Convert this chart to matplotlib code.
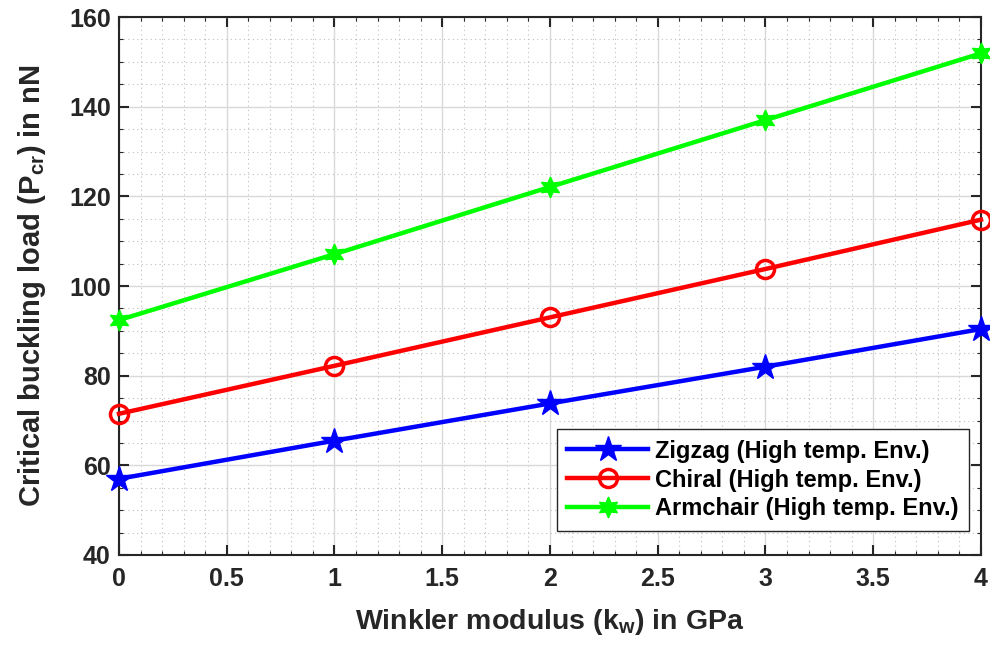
import matplotlib.pyplot as plt
from matplotlib.ticker import MultipleLocator, FuncFormatter

plt.rcParams['font.family'] = ['Liberation Sans', 'DejaVu Sans']
plt.rcParams['font.weight'] = 'bold'
plt.rcParams['mathtext.fontset'] = 'custom'
plt.rcParams['mathtext.rm'] = 'Liberation Sans:bold'
plt.rcParams['mathtext.bf'] = 'Liberation Sans:bold'
plt.rcParams['mathtext.it'] = 'Liberation Sans:bold'

# Winkler modulus (GPa)
kw = [0, 1, 2, 3, 4]
# critical buckling load (nN)
zigzag = [57.0, 65.5, 73.8, 82.0, 90.4]
chiral = [71.5, 82.2, 93.0, 103.8, 114.8]
armchair = [92.4, 107.1, 122.1, 137.0, 151.9]

labels = ['Zigzag (High temp. Env.)', 'Chiral (High temp. Env.)',
          'Armchair (High temp. Env.)']

fig = plt.figure(figsize=(9.9, 6.47), dpi=100)
ax = fig.add_axes([0.1202, 0.1422, 0.8707, 0.8315])

ax.plot(kw, zigzag, '-*', color='#0000ff', lw=3.2, ms=19, label=labels[0], clip_on=False, zorder=5)
ax.plot(kw, chiral, '-o', color='#ff0000', lw=3.2, ms=13, mfc='none', mew=2.5,
        label=labels[1], clip_on=False, zorder=5)
ax.plot(kw, armchair, '-', marker=(6, 1, 0), color='#00ff00', lw=3.2, ms=15,
        label=labels[2], clip_on=False, zorder=5)

ax.set_xlim(0, 4)
ax.set_ylim(40, 160)
ax.xaxis.set_major_locator(MultipleLocator(0.5))
ax.xaxis.set_minor_locator(MultipleLocator(0.1))
ax.yaxis.set_major_locator(MultipleLocator(20))
ax.yaxis.set_minor_locator(MultipleLocator(5))
ax.xaxis.set_major_formatter(FuncFormatter(lambda v, p: f'{v:g}'))

ax.grid(which='major', color='#d9d9d9', lw=1.0, ls='-')
ax.grid(which='minor', color='#bfbfbf', lw=0.8, ls=(0, (1, 3)))
ax.set_axisbelow(True)

ax.tick_params(which='both', direction='in', top=True, right=True,
               colors='#262626', labelsize=18)
ax.tick_params(axis='x', pad=9)
ax.tick_params(axis='y', pad=6)
ax.tick_params(which='major', length=7, width=1.5)
ax.tick_params(which='minor', length=3, width=0.8)
for s in ax.spines.values():
    s.set_color('#262626')
    s.set_linewidth(1.5)

ax.set_xlabel(r'Winkler modulus (k$_{\mathbf{w}}$) in GPa', fontsize=20.5,
              fontweight='bold', color='#262626', labelpad=11)
ax.set_ylabel(r'Critical buckling load (P$_{\mathbf{cr}}$) in nN', fontsize=21,
              fontweight='bold', color='#262626', labelpad=15)

leg = ax.legend(loc='lower right', bbox_to_anchor=(0.986, 0.0444), borderaxespad=0,
                fontsize=17, handlelength=3.4, frameon=True, fancybox=False,
                edgecolor='#262626', framealpha=1, borderpad=0.45,
                labelspacing=0.25, handletextpad=0.3)
leg.get_frame().set_linewidth(1.0)

fig.savefig('out.png', dpi=100)
